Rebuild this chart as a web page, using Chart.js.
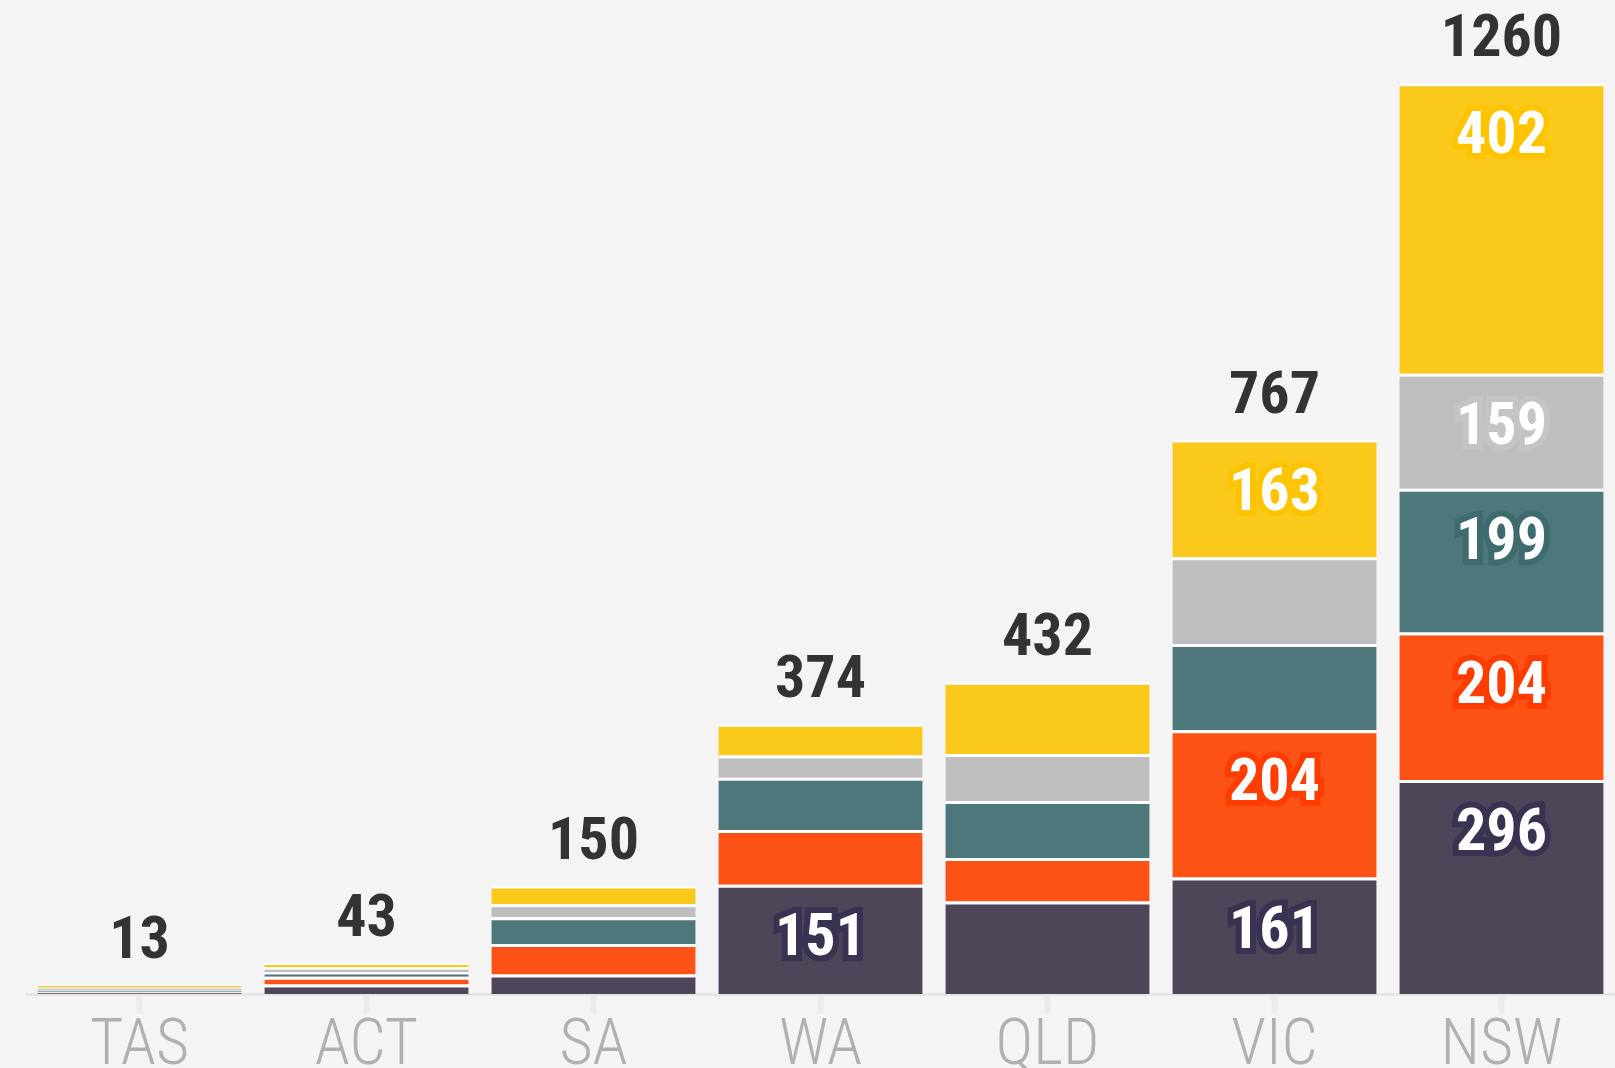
<!DOCTYPE html>
<html>
<head>
<meta charset="utf-8">
<script src="https://cdn.jsdelivr.net/npm/chart.js@4"></script>
<style>
    html, body { margin: 0; padding: 0; background: #f4f4f4; overflow: hidden; }
    #wrap { width: 1615px; height: 1082px; position: relative; }
</style>
</head>
<body>
<div id="wrap"><canvas id="stateChart"></canvas></div>
<script>
const states = ['TAS', 'ACT', 'SA', 'WA', 'QLD', 'VIC', 'NSW'];
const seriesDark = [2, 13, 27, 151, 128, 161, 296];
const seriesOrange = [1, 11, 42, 76, 60, 204, 204];
const seriesTeal = [3, 6, 37, 72, 79, 119, 199];
const seriesGrey = [3, 7, 18, 31, 65, 120, 159];
const seriesYellow = [4, 6, 26, 44, 100, 163, 402];

const fontStack = "'Roboto Condensed', 'Liberation Sans Narrow', 'DejaVu Sans Condensed', Roboto, sans-serif";
const labelSize = 60;
const labelMin = 150;

const fills = ['#4e4559', '#fc5216', '#4d777b', '#bebebe', '#fac91c'];
const halos = ['#3b3150', '#ff3d00', '#3e6b6d', '#c4c4c4', '#ffc400'];

const valueLabels = {
    id: 'valueLabels',
    afterDatasetsDraw(chart) {
        const ctx = chart.ctx;
        const capHalf = labelSize * 0.355;
        ctx.save();
        ctx.font = `bold ${labelSize}px ${fontStack}`;
        ctx.textAlign = 'center';
        ctx.textBaseline = 'alphabetic';
        ctx.lineJoin = 'miter';
        chart.data.datasets.forEach((ds, i) => {
            chart.getDatasetMeta(i).data.forEach((bar, j) => {
                if (ds.data[j] < labelMin) return;
                const y = bar.y + 49 + capHalf;
                ctx.lineWidth = 12;
                ctx.strokeStyle = halos[i];
                ctx.strokeText(String(ds.data[j]), bar.x, y);
                ctx.fillStyle = '#ffffff';
                ctx.fillText(String(ds.data[j]), bar.x, y);
            });
        });
        // totals above each stack
        const topMeta = chart.getDatasetMeta(chart.data.datasets.length - 1);
        ctx.fillStyle = '#333333';
        states.forEach((s, j) => {
            let total = 0;
            chart.data.datasets.forEach((ds) => { total += ds.data[j]; });
            const bar = topMeta.data[j];
            ctx.fillText(String(total), bar.x, bar.y - 48 + capHalf);
        });
        ctx.restore();
    }
};

const seriesList = [seriesDark, seriesOrange, seriesTeal, seriesGrey, seriesYellow];

new Chart(document.getElementById('stateChart'), {
    type: 'bar',
    data: {
        labels: states,
        datasets: seriesList.map((data, i) => {
            return {
                label: 'Series ' + (i + 1),
                data: data,
                backgroundColor: fills[i],
                borderColor: 'rgba(255,255,255,0.85)',
                borderWidth: { top: 3, left: 0, right: 0, bottom: 0 },
                borderSkipped: false,
                barPercentage: 1,
                categoryPercentage: 0.9,
            };
        }),
    },
    options: {
        responsive: true,
        maintainAspectRatio: false,
        animation: false,
        layout: { padding: { left: 26, right: 0, top: 0, bottom: 0 } },
        plugins: {
            legend: { display: false },
            tooltip: { enabled: false },
        },
        scales: {
            x: {
                stacked: true,
                grid: {
                    offset: false,
                    drawOnChartArea: false,
                    drawTicks: true,
                    tickLength: 20,
                    tickWidth: 6,
                    tickColor: '#ebebeb',
                },
                border: { color: '#e6e6e6', width: 3 },
                ticks: {
                    color: '#b0b0b0',
                    padding: 2,
                    font: { family: fontStack, size: 64, weight: '300', lineHeight: 1.0 },
                },
            },
            y: {
                stacked: true,
                display: false,
                min: 0,
                max: 1375,
            },
        },
    },
    plugins: [valueLabels],
});
</script>
</body>
</html>
